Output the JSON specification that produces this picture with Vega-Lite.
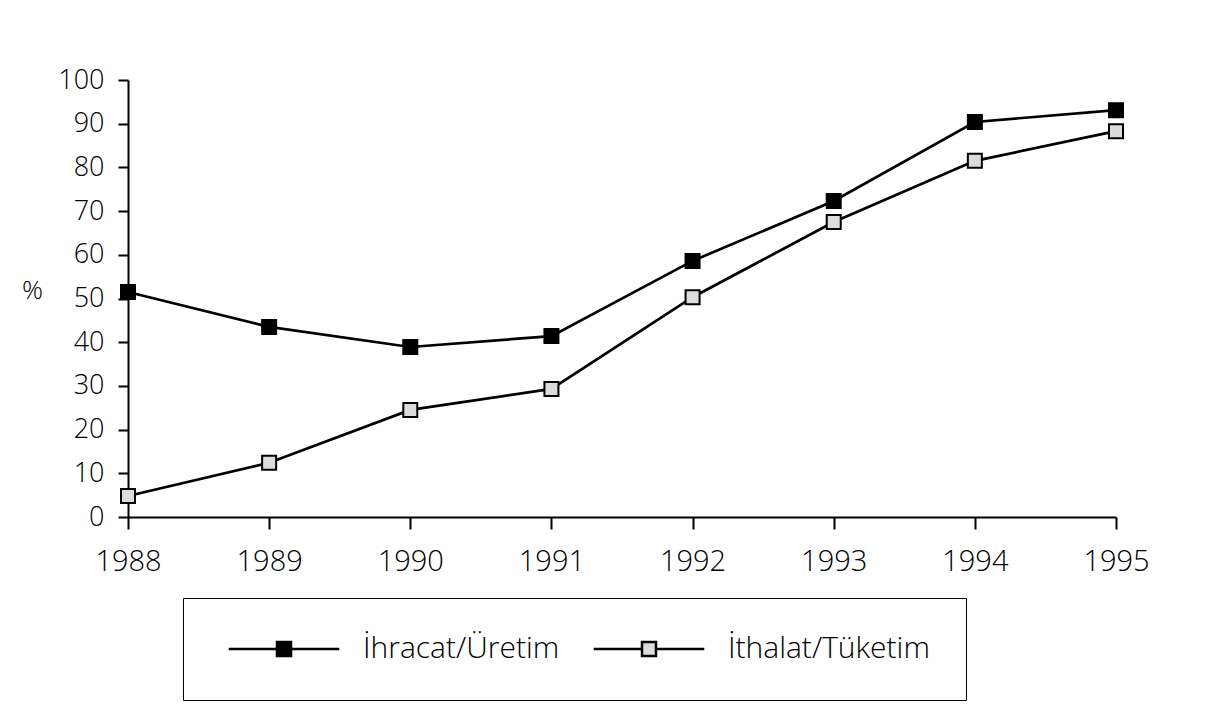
{
  "$schema": "https://vega.github.io/schema/vega-lite/v6.json",
  "width": 988,
  "height": 437,
  "autosize": {"type": "none"},
  "padding": {"left": 128, "top": 80, "right": 95, "bottom": 210},
  "background": "white",
  "config": {
    "view": {"stroke": null},
    "font": "Open Sans",
    "axis": {"grid": false, "domainColor": "black", "domainWidth": 2, "tickColor": "black", "tickWidth": 2, "labelColor": "black", "labelFont": "Open Sans", "labelFontWeight": 300, "labelFontSize": 27, "labelFlush": false, "labelOverlap": false}
  },
  "data": {
    "values": [
      {"year": 1988, "series": "İhracat/Üretim", "value": 51.5},
      {"year": 1989, "series": "İhracat/Üretim", "value": 43.5},
      {"year": 1990, "series": "İhracat/Üretim", "value": 38.9},
      {"year": 1991, "series": "İhracat/Üretim", "value": 41.4},
      {"year": 1992, "series": "İhracat/Üretim", "value": 58.6},
      {"year": 1993, "series": "İhracat/Üretim", "value": 72.3},
      {"year": 1994, "series": "İhracat/Üretim", "value": 90.4},
      {"year": 1995, "series": "İhracat/Üretim", "value": 93.1},
      {"year": 1988, "series": "İthalat/Tüketim", "value": 4.8},
      {"year": 1989, "series": "İthalat/Tüketim", "value": 12.4},
      {"year": 1990, "series": "İthalat/Tüketim", "value": 24.5},
      {"year": 1991, "series": "İthalat/Tüketim", "value": 29.3},
      {"year": 1992, "series": "İthalat/Tüketim", "value": 50.3},
      {"year": 1993, "series": "İthalat/Tüketim", "value": 67.5},
      {"year": 1994, "series": "İthalat/Tüketim", "value": 81.5},
      {"year": 1995, "series": "İthalat/Tüketim", "value": 88.3}
    ]
  },
  "encoding": {
    "x": {
      "field": "year", "type": "quantitative",
      "scale": {"domain": [1988, 1995], "nice": false, "zero": false},
      "axis": {"title": null, "values": [1988, 1989, 1990, 1991, 1992, 1993, 1994, 1995], "format": "d", "tickSize": 12, "labelPadding": 18, "labelFontSize": 29}
    },
    "y": {
      "field": "value", "type": "quantitative",
      "scale": {"domain": [0, 100], "nice": false},
      "axis": {"title": "%", "titleAngle": 0, "titleX": -96, "titleY": 210, "titleFont": "Open Sans", "titleFontSize": 26, "titleFontWeight": 300, "titleAlign": "center", "titleBaseline": "middle", "titleColor": "black", "values": [0, 10, 20, 30, 40, 50, 60, 70, 80, 90, 100], "tickSize": 10, "labelPadding": 14}
    }
  },
  "layer": [
    {
      "mark": {"type": "line", "stroke": "black", "strokeWidth": 2.7},
      "encoding": {"detail": {"field": "series", "type": "nominal"}}
    },
    {
      "mark": {"type": "point", "shape": "square", "size": 196, "filled": true, "stroke": "black", "strokeWidth": 2, "opacity": 1},
      "encoding": {
        "fill": {
          "field": "series", "type": "nominal",
          "scale": {"domain": ["İhracat/Üretim", "İthalat/Tüketim"], "range": ["black", "#dcdcdc"]},
          "legend": {
            "title": null,
            "orient": "none",
            "legendX": 55,
            "legendY": 518,
            "direction": "horizontal",
            "padding": 36,
            "strokeColor": "black",
            "symbolType": "M-7.9,0H-1M1,0H7.9M-1,-1H1V1H-1Z",
            "symbolSize": 196,
            "symbolStrokeColor": "black",
            "symbolStrokeWidth": 2.5,
            "symbolOpacity": 1,
            "symbolOffset": 50,
            "labelOffset": 64,
            "columnPadding": 24,
            "labelFontSize": 30,
            "labelFont": "Open Sans",
            "labelFontWeight": 300,
            "labelColor": "black",
            "labelLimit": 400
          }
        }
      }
    }
  ]
}
